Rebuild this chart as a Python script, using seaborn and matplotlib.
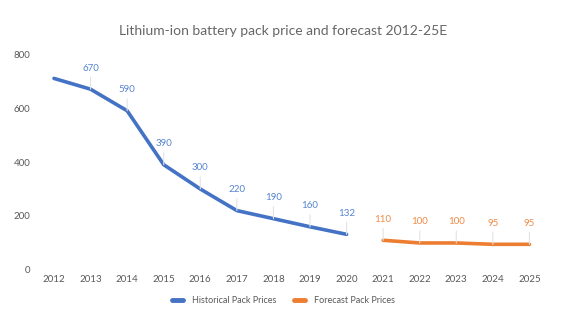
import matplotlib
matplotlib.use("Agg")
import matplotlib.pyplot as plt
import seaborn as sns
import pandas as pd

hist_years = [2012, 2013, 2014, 2015, 2016, 2017, 2018, 2019, 2020]
hist_prices = [710, 670, 590, 390, 300, 220, 190, 160, 132]
hist_labels = [None, "670", "590", "390", "300", "220", "190", "160", "132"]
fc_years = [2021, 2022, 2023, 2024, 2025]
fc_prices = [110, 100, 100, 95, 95]
fc_labels = ["110", "100", "100", "95", "95"]
y_ticks = [0, 200, 400, 600, 800]

sns.set_theme(style="white")
plt.rcParams['font.family'] = ['Lato', 'DejaVu Sans']

blue = "#4472C4"
orange = "#ED7D31"
grey = "#595959"

df = pd.concat([
    pd.DataFrame({"year": hist_years, "price": hist_prices, "series": "Historical Pack Prices"}),
    pd.DataFrame({"year": fc_years, "price": fc_prices, "series": "Forecast Pack Prices"}),
])

fig = plt.figure(figsize=(5.67, 3.30), dpi=100)
ax = fig.add_axes([0.063, 0.182, 0.903, 0.654])
sns.lineplot(data=df, x="year", y="price", hue="series",
             palette={"Historical Pack Prices": blue, "Forecast Pack Prices": orange},
             linewidth=2.6, ax=ax, legend=False)

def label(xs, ys, labs, col):
    for x, y, t in zip(xs, ys, labs):
        if t is None:
            continue
        ax.annotate(t, xy=(x, y), xytext=(0, 12), textcoords="offset points",
                    ha="center", va="bottom", fontsize=7, color=col,
                    arrowprops=dict(arrowstyle="-", color="#E3E3E3", lw=0.8,
                                    shrinkA=1, shrinkB=0))

label(hist_years, hist_prices, hist_labels, "#5584D0")
label(fc_years, fc_prices, fc_labels, "#F08A45")

ax.set_xlim(2011.5, 2025.5)
ax.set_ylim(0, 800)
ax.set_yticks(y_ticks)
ax.set_xticks(hist_years + fc_years)
ax.set_xticklabels([str(y) for y in hist_years + fc_years])
ax.tick_params(axis="both", labelsize=7, colors=grey, length=0, pad=4)
ax.set_xlabel("")
ax.set_ylabel("")
for s in ax.spines.values():
    s.set_visible(False)

fig.text(0.5, 0.905, "Lithium-ion battery pack price and forecast 2012-25E",
         ha="center", va="center", fontsize=10, color="#666666")

from matplotlib.lines import Line2D
handles = [Line2D([], [], color=blue, lw=3.5), Line2D([], [], color=orange, lw=3.5)]
fig.legend(handles, ["Historical Pack Prices", "Forecast Pack Prices"],
           loc="center", bbox_to_anchor=(0.5, 0.088), ncol=2, frameon=False,
           fontsize=6.5, labelcolor=grey, handlelength=1.2, columnspacing=2.0,
           handletextpad=1.0)

fig.savefig("out.png", dpi=100)
